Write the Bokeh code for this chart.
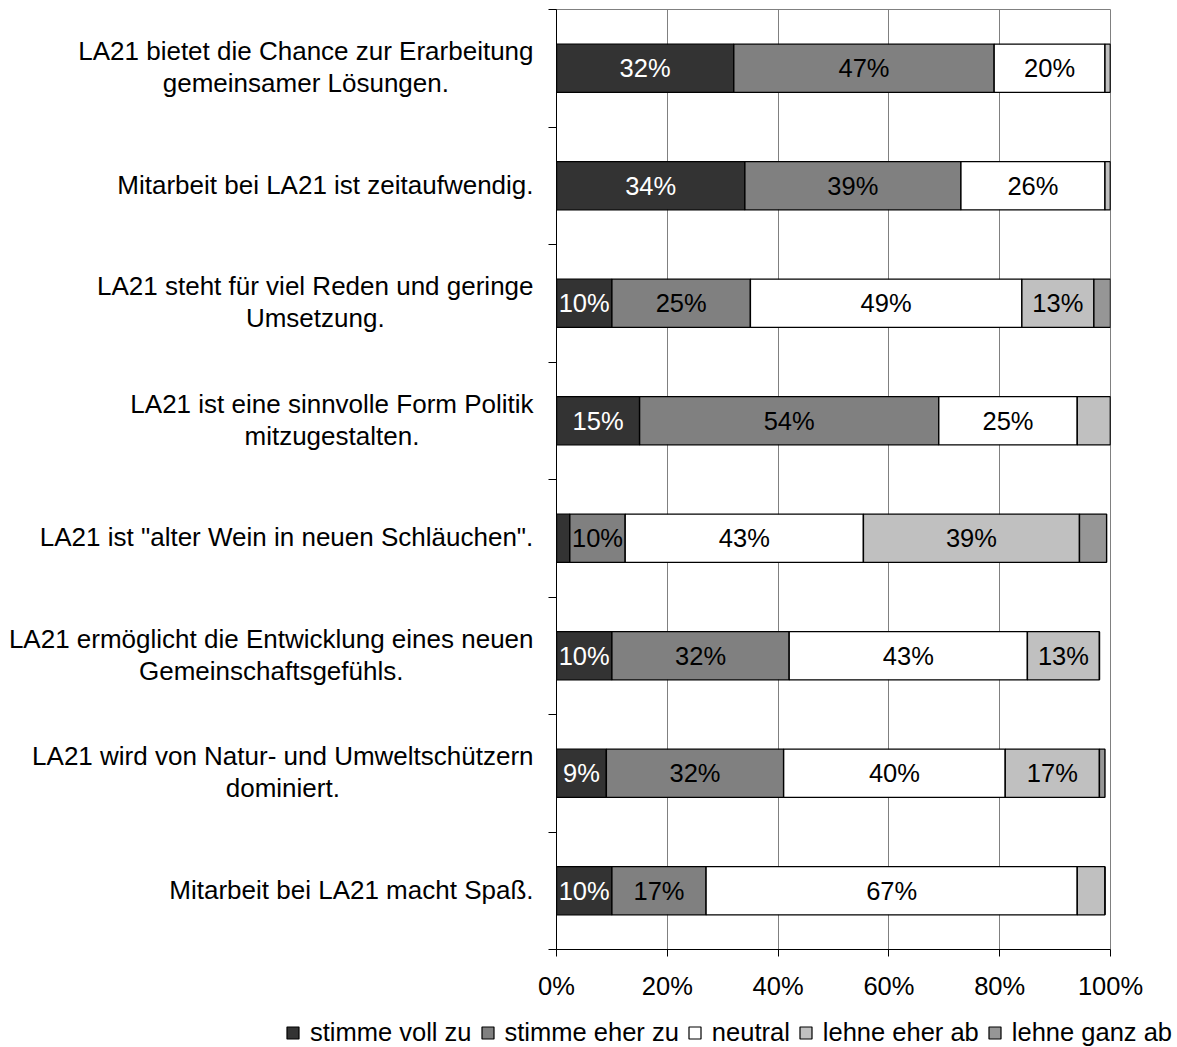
from bokeh.plotting import figure
from bokeh.layouts import column, row
from bokeh.models import (ColumnDataSource, Range1d, FixedTicker, PrintfTickFormatter,
                          CustomJSTickFormatter, Legend, LegendItem)
from bokeh.core.properties import value
from bokeh.embed import file_html
from bokeh.resources import INLINE

# Survey statements (top to bottom)
statements = [
    "LA21 bietet die Chance zur Erarbeitung\ngemeinsamer Lösungen.",
    "Mitarbeit bei LA21 ist zeitaufwendig.",
    "LA21 steht für viel Reden und geringe\nUmsetzung.",
    "LA21 ist eine sinnvolle Form Politik\nmitzugestalten.",
    "LA21 ist \"alter Wein in neuen Schläuchen\".",
    "LA21 ermöglicht die Entwicklung eines neuen\nGemeinschaftsgefühls.",
    "LA21 wird von Natur- und Umweltschützern\ndominiert.",
    "Mitarbeit bei LA21 macht Spaß.",
]

# Answer shares in percent
stimme_voll_zu = [32, 34, 10, 15, 2.4, 10, 9, 10]
stimme_eher_zu = [47, 39, 25, 54, 10, 32, 32, 17]
neutral = [20, 26, 49, 25, 43, 43, 40, 67]
lehne_eher_ab = [1, 1, 13, 6, 39, 13, 17, 5]
lehne_ganz_ab = [0, 0, 3, 0, 4.9, 0, 1, 0]

series_names = ["stimme voll zu", "stimme eher zu", "neutral", "lehne eher ab", "lehne ganz ab"]
series_values = [stimme_voll_zu, stimme_eher_zu, neutral, lehne_eher_ab, lehne_ganz_ab]
series_colors = ["#333333", "#808080", "#ffffff", "#c0c0c0", "#969696"]
label_colors = ["#ffffff", "#000000", "#000000", "#000000", "#000000"]

x_ticks = [0, 20, 40, 60, 80, 100]

FONT = "Liberation Sans"
FS_PX = 26
FS = f"{FS_PX}px"
N = len(statements)
TOP, BOTTOM = 9, 61
LABEL_W = 536

# ---------- main bar chart ----------
p = figure(width=1177 - LABEL_W, height=1010, output_backend="svg", toolbar_location=None,
           x_range=Range1d(0, 100), y_range=Range1d(N, 0),
           min_border_left=20, min_border_right=67, min_border_top=TOP, min_border_bottom=BOTTOM)
p.outline_line_color = "#808080"

p.xaxis.ticker = FixedTicker(ticks=x_ticks)
p.xaxis.formatter = PrintfTickFormatter(format="%d%%")
p.xaxis.major_label_text_font = FONT
p.xaxis.major_label_text_font_size = "25.5px"
p.xaxis.major_label_text_color = "#000000"
p.xaxis.major_label_standoff = 15
p.xaxis.axis_line_color = "#000000"
p.xaxis.major_tick_line_color = "#000000"
p.xaxis.major_tick_out = 7
p.xaxis.major_tick_in = 0
p.xaxis.minor_tick_line_color = None

p.yaxis.ticker = FixedTicker(ticks=list(range(N + 1)))
p.yaxis.formatter = CustomJSTickFormatter(code="return ''")
p.yaxis.major_label_standoff = 0
p.yaxis.axis_line_color = "#000000"
p.yaxis.major_tick_line_color = "#000000"
p.yaxis.major_tick_out = 8
p.yaxis.major_tick_in = 0
p.yaxis.minor_tick_line_color = None

p.xgrid.grid_line_color = "#808080"
p.ygrid.grid_line_color = None

centers = [i + 0.5 for i in range(N)]
left = [0.0] * N
seg_x, seg_y, seg_txt, seg_col = [], [], [], []
for vals, color, tcol in zip(series_values, series_colors, label_colors):
    right = [l + v for l, v in zip(left, vals)]
    src = ColumnDataSource(dict(y=centers, left=left, right=right))
    p.hbar(y="y", left="left", right="right", height=0.41, source=src,
           fill_color=color, line_color="#000000", line_width=1.4)
    for y, l, rr, v in zip(centers, left, right, vals):
        if v >= 9:
            seg_x.append((l + rr) / 2)
            seg_y.append(y)
            seg_txt.append(f"{round(v)}%")
            seg_col.append(tcol)
    left = right

p.text(x="x", y="y", text="t", text_color="c",
       source=ColumnDataSource(dict(x=seg_x, y=seg_y, t=seg_txt, c=seg_col)),
       text_font=value(FONT), text_font_size="25.5px", text_align="center", text_baseline="middle")

# ---------- statement labels ----------
# Arial-compatible advance widths (per 1000 em) to centre each statement block
W = {" ": 278, '"': 355, "-": 333, ".": 278, "A": 667, "C": 722, "E": 667, "F": 611,
     "G": 778, "L": 556, "M": 833, "N": 722, "P": 667, "R": 722, "S": 667, "U": 722,
     "W": 944, "Ö": 778, "a": 556, "b": 556, "c": 500, "d": 556, "e": 556, "f": 278,
     "g": 556, "h": 556, "i": 222, "j": 222, "k": 500, "l": 222, "m": 833, "n": 556,
     "o": 556, "p": 556, "q": 556, "r": 333, "s": 500, "t": 278, "u": 556, "v": 500,
     "w": 722, "x": 500, "y": 500, "z": 500, "ä": 556, "ö": 556, "ü": 556, "ß": 611}


def text_width(s, size=FS_PX):
    return sum(W.get(ch, 556) for ch in s) * size / 1000.0


label_right = 533
lab_x = [label_right - max(text_width(ln) for ln in s.split("\n")) / 2 for s in statements]

lf = figure(width=LABEL_W, height=1010, output_backend="svg", toolbar_location=None,
            x_range=Range1d(0, LABEL_W), y_range=Range1d(N, 0),
            x_axis_type=None, y_axis_type=None,
            min_border_left=0, min_border_right=0, min_border_top=TOP, min_border_bottom=BOTTOM)
lf.outline_line_color = None
lf.grid.grid_line_color = None
lf.text(x="x", y="y", text="t",
        source=ColumnDataSource(dict(x=lab_x, y=centers, t=statements)),
        text_font=value(FONT), text_font_size=FS, text_color="#000000",
        text_align="center", text_baseline="middle", text_line_height=1.08, y_offset=-1)

# ---------- legend strip ----------
lg = figure(width=1177, height=37, output_backend="svg", toolbar_location=None,
            x_range=Range1d(0, 1), y_range=Range1d(0, 1),
            x_axis_type=None, y_axis_type=None,
            min_border_left=0, min_border_right=0, min_border_top=0, min_border_bottom=0)
lg.outline_line_color = None
lg.grid.grid_line_color = None
items = []
nan = float("nan")
for name, color in zip(series_names, series_colors):
    # swatch-only renderer: no finite coordinates, so only its legend entry is drawn
    r = lg.hbar(y=[nan], left=[nan], right=[nan], height=0.5, fill_color=color,
                line_color="#000000", line_width=1.2)
    items.append(LegendItem(label=name, renderers=[r]))
legend = Legend(items=items, orientation="horizontal", location=(285, 0),
                label_text_font=FONT, label_text_font_size="25.5px", label_text_color="#000000",
                glyph_width=15, glyph_height=15, label_standoff=10, spacing=8,
                padding=0, margin=0, border_line_alpha=0, background_fill_alpha=0,
                label_height=26)
lg.add_layout(legend, "center")

layout = column(row(lf, p), lg)
open("out.html", "w").write(file_html(layout, INLINE))
